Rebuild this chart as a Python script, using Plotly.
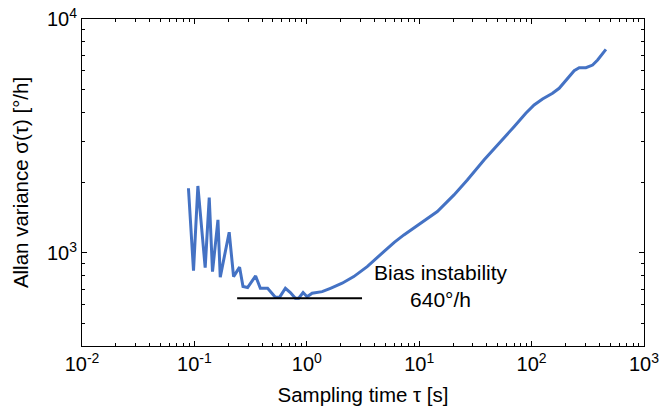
import numpy as np
import plotly.graph_objects as go

tau = [0.0885, 0.0982, 0.1074, 0.1247, 0.1355, 0.1449, 0.162, 0.1698, 0.204, 0.2231,
       0.2523, 0.2706, 0.2974, 0.3505, 0.386, 0.448, 0.525, 0.5735, 0.645, 0.714,
       0.791, 0.847, 0.927, 1.006, 1.115, 1.369, 1.623, 2.064, 2.618, 3.446,
       4.846, 6.0, 7.306, 10.29, 14.5, 20.4, 26.8, 37.7, 53.2, 69.8,
       88.8, 105.3, 125.1, 153.6, 175.9, 208.9, 239.2, 265.1, 304.1, 349.0,
       386.7, 458.4]
adev = [1890, 840, 1933, 865, 1723, 832, 1384, 788, 1226, 792,
        869, 718, 711, 797, 706, 706, 647, 647, 706, 677,
        640, 640, 677, 650, 673, 683, 706, 742, 792, 874,
        1013, 1110, 1194, 1339, 1502, 1770, 2051, 2497, 2990, 3465,
        3954, 4291, 4551, 4814, 5055, 5580, 6014, 6193, 6193, 6357,
        6681, 7421]

bias_x = [0.24, 3.1]
bias_y = [640, 640]
bias_label = "Bias instability<br>640°/h"

x_tickvals = [0.01, 0.1, 1, 10, 100, 1000]
x_ticktext = ["10<sup>-2</sup>", "10<sup>-1</sup>", "10<sup>0</sup>",
              "10<sup>1</sup>", "10<sup>2</sup>", "10<sup>3</sup>"]
y_tickvals = [1000, 10000]
y_ticktext = ["10<sup>3</sup>", "10<sup>4</sup>"]

font = "Liberation Sans, Arial, sans-serif"

fig = go.Figure()
fig.add_trace(go.Scatter(x=tau, y=adev, mode="lines",
                         line=dict(color="#4472C4", width=3), showlegend=False))
fig.add_trace(go.Scatter(x=bias_x, y=bias_y, mode="lines",
                         line=dict(color="black", width=2), showlegend=False))

fig.add_annotation(x=np.log10(15.5), y=np.log10(725), text=bias_label,
                   showarrow=False, font=dict(family=font, size=21, color="black"),
                   align="center")

axis_common = dict(
    type="log", showline=True, linecolor="black", linewidth=1, mirror="ticks",
    ticks="inside", ticklen=5, tickcolor="black", showgrid=False, zeroline=False,
    automargin=False,
    minor=dict(ticks="inside", ticklen=3, tickcolor="black", showgrid=False, dtick="D1"),
    tickfont=dict(family=font, size=20, color="black"),
)

fig.update_xaxes(range=[-2, 3], tickvals=x_tickvals, ticktext=x_ticktext,
                 title=dict(text="Sampling time τ [s]",
                            font=dict(family=font, size=20.5, color="black"), standoff=14),
                 **axis_common)
fig.update_yaxes(range=[np.log10(400), 4], tickvals=y_tickvals, ticktext=y_ticktext,
                 title=dict(text="Allan variance σ(τ) [°/h]",
                            font=dict(family=font, size=20.5, color="black"), standoff=12),
                 **axis_common)

fig.update_layout(width=661, height=406, margin=dict(l=82, r=17, t=19, b=60),
                  plot_bgcolor="white", paper_bgcolor="white",
                  font=dict(family=font, color="black"))

fig.write_html("out.html")
